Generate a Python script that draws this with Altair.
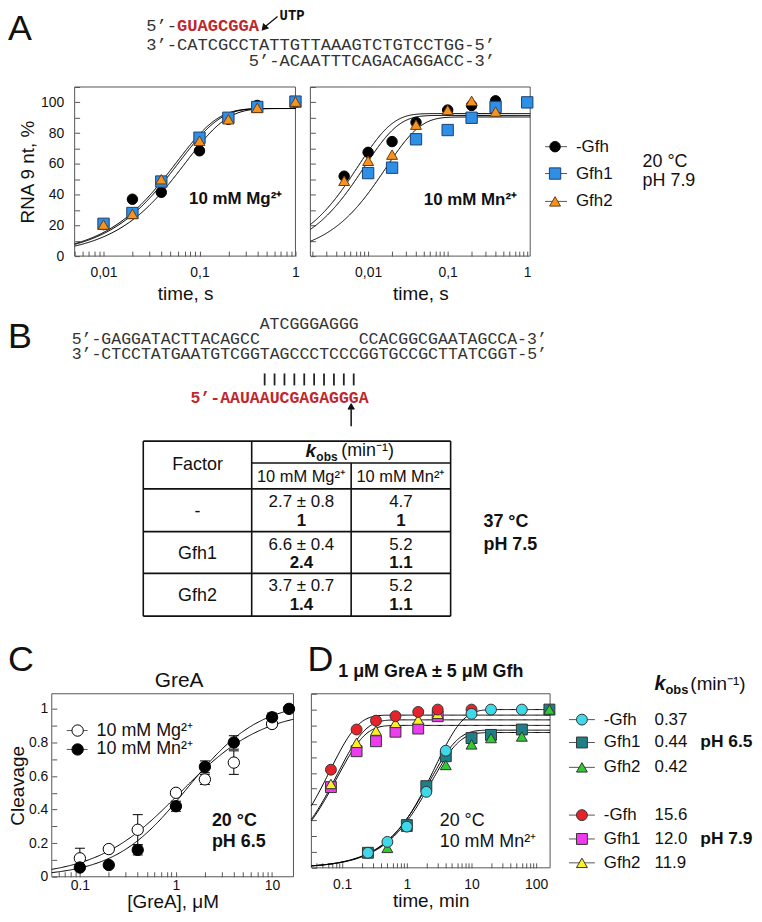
import altair as alt
import numpy as np
import pandas as pd

W, H, OFF = 750, 906, 8
SANS, MONO = "Liberation Sans", "Liberation Mono"
INK, FRAME, SEQ_INK, SEQ_RED = "#111111", "#555555", "#333333", "#c0272d"


def P(v):
    return v - OFF


dummy = pd.DataFrame({"d": [0]})

# ======================= DATA =======================
# Panel A - 10 mM Mg2+ (time, s ; RNA 9 nt, %)
a_mg_time = [0.01, 0.02, 0.04, 0.1, 0.2, 0.4, 1.0]
a_mg_nogfh = [20.5, 37.0, 41.5, 68.5, 89.0, 98.0, 100.0]
a_mg_gfh1 = [21.0, 28.0, 48.5, 77.0, 90.0, 97.0, 100.5]
a_mg_gfh2 = [20.5, 27.5, 50.0, 75.0, 89.0, 96.5, 100.5]
a_mg_k = [14.0, 17.5, 16.5]      # fitted rate constants (s^-1): -Gfh, Gfh1, Gfh2
a_mg_amp = [96.0, 96.0, 96.0]    # fitted amplitudes (%)

# Panel A - 10 mM Mn2+
a_mn_time_nogfh = [0.005, 0.01, 0.02, 0.04, 0.1, 0.2, 0.4]
a_mn_nogfh = [52.0, 67.5, 74.5, 87.0, 95.0, 98.0, 101.0]
a_mn_time_gfh1 = [0.01, 0.02, 0.04, 0.1, 0.2, 0.4, 1.0]
a_mn_gfh1 = [54.0, 57.5, 76.0, 82.0, 90.0, 97.0, 100.0]
a_mn_time_gfh2 = [0.005, 0.01, 0.02, 0.04, 0.1, 0.2, 0.4]
a_mn_gfh2 = [49.0, 62.0, 66.0, 85.5, 95.0, 101.0, 94.0]
a_mn_k = [133.0, 60.0, 112.0]
a_mn_amp = [92.7, 90.5, 91.5]

# Panel B - sequences and table
seqA_prefix = "5’-"
seqA_rna = "GUAGCGGA"
seqA_template = "3’-CATCGCCTATTGTTAAAGTCTGTCCTGG-5’"
seqA_nontemplate = "5’-ACAATTTCAGACAGGACC-3’"
seqB_bubble = "ATCGGGAGGG"
seqB_top_left = "5’-GAGGATACTTACAGCC"
seqB_top_right = "CCACGGCGAATAGCCA-3’"
seqB_template = "3’-CTCCTATGAATGTCGGTAGCCCTCCCGGTGCCGCTTATCGGT-5’"
seqB_rna = "5’-AAUAAUCGAGAGGGA"

table_factor = ["-", "Gfh1", "Gfh2"]
table_mg = ["2.7 ± 0.8", "6.6 ± 0.4", "3.7 ± 0.7"]
table_mg_rel = ["1", "2.4", "1.4"]
table_mn = ["4.7", "5.2", "5.2"]
table_mn_rel = ["1", "1.1", "1.1"]

# Panel C - GreA titration (uM ; cleavage)
c_conc_mg = [0.1, 0.2, 0.4, 1, 2, 4, 10]
c_mg = [0.11, 0.165, 0.28, 0.50, 0.58, 0.68, 0.91]
c_mg_err = [0.06, 0.01, 0.09, 0.01, 0.03, 0.07, 0.02]
c_conc_mn = [0.1, 0.2, 0.4, 1, 2, 4, 10, 15]
c_mn = [0.055, 0.07, 0.16, 0.42, 0.655, 0.80, 0.95, 1.0]
c_mn_err = [0.01, 0.01, 0.03, 0.03, 0.035, 0.04, 0.025, 0.0]
c_fit_bmax = [1.0, 1.05]     # Mg, Mn
c_fit_k = [1.1, 1.3]
c_fit_n = [1.0, 1.15]

# Panel D - time courses (min ; cleavage)
d_t65_nogfh = [0.25, 0.5, 1, 2, 4, 10, 20, 60]
d_65_nogfh = [0.095, 0.164, 0.26, 0.48, 0.74, 0.973, 1.0, 1.0]
d_t65_gfh1 = [0.25, 1, 2, 4, 10, 20, 60, 160]
d_65_gfh1 = [0.095, 0.27, 0.516, 0.705, 0.82, 0.84, 0.874, 1.0]
d_t65_gfh2 = [0.5, 1, 4, 10, 20, 60, 160]
d_65_gfh2 = [0.126, 0.26, 0.65, 0.78, 0.82, 0.83, 1.0]
d_t79 = [0.067, 0.167, 0.333, 0.667, 1.5, 3, 10]
d_79_nogfh = [0.62, 0.874, 0.93, 0.958, 0.985, 1.0, 1.0]
d_t79b = [0.067, 0.167, 0.333, 0.667, 1.5, 3]
d_79_gfh1 = [0.51, 0.737, 0.80, 0.86, 0.88, 0.958]
d_79_gfh2 = [0.53, 0.79, 0.867, 0.916, 0.937, 0.973]
d_kobs = [0.37, 0.44, 0.42, 15.6, 12.0, 11.9]   # min^-1 (legend values)
d_amp = [1.0, 0.87, 0.855, 0.965, 0.90, 0.935]
d_names = ["-Gfh", "Gfh1", "Gfh2", "-Gfh", "Gfh1", "Gfh2"]

# ======================= HELPERS =======================
def mk_scales(xdom, xpx, ydom, ypx):
    xs = alt.Scale(type="log", domain=xdom, range=[P(xpx[0]), P(xpx[1])], nice=False)
    ys = alt.Scale(type="linear", domain=ydom, range=[P(ypx[0]), P(ypx[1])], nice=False, zero=False)
    return xs, ys


def x_label_axis(ybot, values, title, pad, tsize, tpad, fmt="~g", expr=None, lsize=14):
    kw = dict(orient="bottom", offset=P(ybot) - H, values=values, format=fmt, ticks=False, tickSize=0,
              domain=False, grid=False, labelFont=SANS, labelFontSize=lsize, labelColor=INK,
              labelPadding=pad, labelFlush=False, labelOverlap=False, title=title, titleFont=SANS,
              titleFontSize=tsize, titleFontWeight="normal", titleColor=INK, titlePadding=tpad)
    if expr:
        kw["labelExpr"] = expr
    return alt.Axis(**kw)


def y_label_axis(xleft, values, title, pad, tsize, tpad, fmt="d"):
    return alt.Axis(orient="left", offset=-P(xleft), values=values, format=fmt, ticks=False, tickSize=0,
                    domain=False, grid=False, labelFont=SANS, labelFontSize=14, labelColor=INK,
                    labelPadding=pad, labelFlush=False, labelOverlap=False, title=title, titleFont=SANS,
                    titleFontSize=tsize, titleFontWeight="normal", titleColor=INK, titlePadding=tpad)


def x_tick_axis(ybot, values):
    return alt.Axis(orient="top", offset=-P(ybot), values=values, labels=False, domain=False, grid=False,
                    ticks=True, tickSize=5, tickColor=FRAME, tickWidth=1, title=None)


def y_tick_axis(xleft, values):
    return alt.Axis(orient="right", offset=P(xleft) - W, values=values, labels=False, domain=False,
                    grid=False, ticks=True, tickSize=5, tickColor=FRAME, tickWidth=1, title=None)


def box(xs, ys, xdom, ydom, xaxis, yaxis, visible=True):
    mk = (alt.Chart(dummy).mark_rect(fillOpacity=0, stroke=FRAME, strokeWidth=1) if visible
          else alt.Chart(dummy).mark_rect(opacity=0))
    return mk.encode(
        x=alt.XDatum(xdom[0], type="quantitative", scale=xs, axis=xaxis),
        x2=alt.X2Datum(xdom[1]),
        y=alt.YDatum(ydom[0], type="quantitative", scale=ys, axis=yaxis),
        y2=alt.Y2Datum(ydom[1]))


def curves(xs, ys, df):
    return alt.Chart(df).mark_line(color="black", strokeWidth=1).encode(
        x=alt.X("t:Q", scale=xs, axis=None), y=alt.Y("v:Q", scale=ys, axis=None), detail="s:N")


def pts(xs, ys, t, v, shape, fill, stroke, size=110):
    df = pd.DataFrame({"t": t, "v": v})
    return alt.Chart(df).mark_point(shape=shape, filled=True, fill=fill, stroke=stroke, strokeWidth=1,
                                    size=size, opacity=1).encode(
        x=alt.X("t:Q", scale=xs, axis=None), y=alt.Y("v:Q", scale=ys, axis=None))


def log_ticks(lo, hi):
    out = []
    for e in range(-4, 4):
        for m in range(1, 10):
            v = m * 10.0 ** e
            if lo <= v * 1.0001 and v <= hi * 1.0001:
                out.append(float(f"{v:.6g}"))
    return out


def exp_df(k_list, amp_list, lo, hi):
    tt = np.geomspace(lo, hi, 220)
    frames = []
    for i, (k, a) in enumerate(zip(k_list, amp_list)):
        frames.append(pd.DataFrame({"t": tt, "v": a * (1 - np.exp(-k * tt)), "s": i}))
    return pd.concat(frames)


def txt(rows, size, weight="normal", style="normal", color=INK, font=SANS, align="left",
        baseline="middle", angle=0):
    df = pd.DataFrame(rows, columns=["x", "y", "label"])
    df["x"] = df["x"] - OFF
    df["y"] = df["y"] - OFF
    return alt.Chart(df).mark_text(font=font, fontSize=size, fontWeight=weight, fontStyle=style,
                                   color=color, align=align, baseline=baseline, angle=angle).encode(
        x=alt.X("x:Q", scale=None), y=alt.Y("y:Q", scale=None), text="label:N")


def rules(rows, color="black", width=1.0):
    df = pd.DataFrame(rows, columns=["x", "y", "x2", "y2"]) - OFF
    return alt.Chart(df).mark_rule(color=color, strokeWidth=width).encode(
        x=alt.X("x:Q", scale=None), y=alt.Y("y:Q", scale=None), x2="x2:Q", y2="y2:Q")


def marks(rows, shape, fill, stroke, size=110, angle=0):
    df = pd.DataFrame(rows, columns=["x", "y"]) - OFF
    return alt.Chart(df).mark_point(shape=shape, filled=True, fill=fill, stroke=stroke, strokeWidth=1,
                                    size=size, opacity=1, angle=angle).encode(
        x=alt.X("x:Q", scale=None), y=alt.Y("y:Q", scale=None))


# marker styles
BLACK = ("circle", "#000000", "#000000")
BLUE = ("square", "#2d8fe6", "#1c3f70")
ORANGE = ("triangle-up", "#f7931e", "#6b3a10")

# ======================= PANEL A =======================
A_YDOM = [0, 110]
A_YPX = (255, 85)
A_YTICKS = list(range(0, 111, 10))
comma = "replace(datum.label, '.', ',')"

A1_XDOM, A1_XPX = [0.005, 1.0], (75, 297)
xs, ys = mk_scales(A1_XDOM, A1_XPX, A_YDOM, A_YPX)
panelA1 = alt.layer(
    box(xs, ys, A1_XDOM, A_YDOM,
        x_label_axis(255, [0.01, 0.1, 1], "time, s", 10, 19, 5, fmt=".2~f", expr=comma),
        y_label_axis(75, [0, 20, 40, 60, 80, 100], "RNA 9 nt, %", 11, 19, 3)),
    box(xs, ys, A1_XDOM, A_YDOM, x_tick_axis(255, log_ticks(*A1_XDOM)), y_tick_axis(75, A_YTICKS), False),
    curves(xs, ys, exp_df(a_mg_k, a_mg_amp, *A1_XDOM)),
    pts(xs, ys, a_mg_time, a_mg_nogfh, *BLACK),
    pts(xs, ys, a_mg_time, a_mg_gfh1, *BLUE, size=130),
    pts(xs, ys, a_mg_time, a_mg_gfh2, *ORANGE, size=120),
).resolve_axis(x="independent", y="independent")

A2_XDOM, A2_XPX = [0.00188, 1.09], (312, 533)
xs, ys = mk_scales(A2_XDOM, A2_XPX, A_YDOM, A_YPX)
panelA2 = alt.layer(
    box(xs, ys, A2_XDOM, A_YDOM,
        x_label_axis(255, [0.01, 0.1, 1], "time, s", 10, 19, 5, fmt=".2~f", expr=comma), None),
    box(xs, ys, A2_XDOM, A_YDOM, x_tick_axis(255, log_ticks(*A2_XDOM)), y_tick_axis(312, A_YTICKS), False),
    curves(xs, ys, exp_df(a_mn_k, a_mn_amp, *A2_XDOM)),
    pts(xs, ys, a_mn_time_nogfh, a_mn_nogfh, *BLACK),
    pts(xs, ys, a_mn_time_gfh1, a_mn_gfh1, *BLUE, size=130),
    pts(xs, ys, a_mn_time_gfh2, a_mn_gfh2, *ORANGE, size=120),
).resolve_axis(x="independent", y="independent")

# ======================= PANEL C =======================
C_XDOM, C_XPX = [0.051, 16.7], (52, 295)
C_YDOM, C_YPX = [0, 1.09], (879, 695)
xs, ys = mk_scales(C_XDOM, C_XPX, C_YDOM, C_YPX)
tt = np.geomspace(C_XDOM[0], C_XDOM[1], 220)
c_curves = pd.concat([
    pd.DataFrame({"t": tt, "v": b * tt ** n / (kd ** n + tt ** n), "s": i})
    for i, (b, kd, n) in enumerate(zip(c_fit_bmax, c_fit_k, c_fit_n))])


def errbars(t, v, e):
    df = pd.DataFrame({"t": t, "lo": np.array(v) - np.array(e), "hi": np.array(v) + np.array(e)})
    df = df[df["hi"] > df["lo"]]
    base = alt.Chart(df)
    return [
        base.mark_rule(color="black", strokeWidth=1).encode(
            x=alt.X("t:Q", scale=xs, axis=None), y=alt.Y("lo:Q", scale=ys, axis=None), y2="hi:Q"),
        base.mark_tick(orient="horizontal", color="black", size=10, thickness=1, opacity=1).encode(
            x=alt.X("t:Q", scale=xs, axis=None), y=alt.Y("hi:Q", scale=ys, axis=None)),
        base.mark_tick(orient="horizontal", color="black", size=10, thickness=1, opacity=1).encode(
            x=alt.X("t:Q", scale=xs, axis=None), y=alt.Y("lo:Q", scale=ys, axis=None)),
    ]


panelC = alt.layer(
    box(xs, ys, C_XDOM, C_YDOM,
        x_label_axis(879, [0.1, 1, 10], "[GreA], μM", 2, 19, 0),
        y_label_axis(52, [0, 0.2, 0.4, 0.6, 0.8, 1], "Cleavage", 4, 19, 1, fmt="~g")),
    box(xs, ys, C_XDOM, C_YDOM, x_tick_axis(879, log_ticks(*C_XDOM)),
        y_tick_axis(52, [round(0.1 * i, 1) for i in range(11)]), False),
    *errbars(c_conc_mg, c_mg, c_mg_err),
    *errbars(c_conc_mn, c_mn, c_mn_err),
    curves(xs, ys, c_curves),
    pts(xs, ys, c_conc_mg, c_mg, "circle", "#ffffff", "#000000", 130),
    pts(xs, ys, c_conc_mn, c_mn, "circle", "#000000", "#000000", 130),
).resolve_axis(x="independent", y="independent")

# ======================= PANEL D =======================
D_XDOM, D_XPX = [0.0334, 164], (313, 553)
D_YDOM, D_YPX = [0, 1.1], (870, 695)
xs, ys = mk_scales(D_XDOM, D_XPX, D_YDOM, D_YPX)
D_STY = [("circle", "#3fd8e8", "#333333"), ("square", "#1e7f86", "#333333"),
         ("triangle-up", "#2ecc2e", "#333333"), ("circle", "#e8222a", "#333333"),
         ("square", "#ee3bee", "#333333"), ("triangle-up", "#fff023", "#333333")]
panelD = alt.layer(
    box(xs, ys, D_XDOM, D_YDOM, x_label_axis(870, [0.1, 1, 10, 100], "time, min", 10, 19, 0), None),
    box(xs, ys, D_XDOM, D_YDOM, x_tick_axis(870, log_ticks(*D_XDOM)),
        y_tick_axis(313, [round(0.1 * i, 1) for i in range(12)]), False),
    curves(xs, ys, exp_df(d_kobs, d_amp, *D_XDOM)),
    pts(xs, ys, d_t79b, d_79_gfh1, *D_STY[4], size=120),
    pts(xs, ys, d_t79b, d_79_gfh2, *D_STY[5], size=120),
    pts(xs, ys, d_t79, d_79_nogfh, *D_STY[3], size=120),
    pts(xs, ys, d_t65_gfh1, d_65_gfh1, *D_STY[1], size=120),
    pts(xs, ys, d_t65_gfh2, d_65_gfh2, *D_STY[2], size=120),
    pts(xs, ys, d_t65_nogfh, d_65_nogfh, *D_STY[0], size=120),
).resolve_axis(x="independent", y="independent")

# ======================= ANNOTATIONS =======================
ann = []
ann.append(txt([(8, 38, "A"), (8, 347, "B"), (8, 672, "C"), (309, 672, "D")], 36, baseline="alphabetic"))

# A sequences
CWA, FA, XA = 10.3, 17.2, 147
ann.append(txt([(XA, 24, seqA_prefix), (XA, 43, seqA_template), (XA + 10 * CWA, 59, seqA_nontemplate)],
               FA, font=MONO, color=SEQ_INK))
ann.append(txt([(XA + 3 * CWA, 24, seqA_rna)], FA, weight="bold", font=MONO, color=SEQ_RED))
ann.append(txt([(281, 14, "UTP")], 14, weight="bold", font=MONO, color="#111111"))
ann.append(rules([(279, 14, 267, 24)], color="#111111", width=1.3))
ann.append(marks([(266, 25)], "triangle", "#111111", "#111111", 40, angle=221))

# A in-panel labels & legend
ann.append(txt([(190, 198, "10 mM Mg²⁺"), (426, 199, "10 mM Mn²⁺")], 17, weight="bold"))
ann.append(rules([(548, y, 570, y) for y in (145, 172, 200)], color=FRAME, width=1))
ann.append(marks([(558, 145)], *BLACK, 110))
ann.append(marks([(558, 172)], *BLUE, 130))
ann.append(marks([(558, 200)], *ORANGE, 120))
ann.append(txt([(579, 145, "-Gfh"), (579, 172, "Gfh1"), (579, 200, "Gfh2")], 17))
ann.append(txt([(646, 160, "20 °C"), (646, 180, "pH 7.9")], 18))

# B sequences
CWB, FB, XB = 9.95, 16.6, 72
ann.append(txt([(XB + 19 * CWB, 323, seqB_bubble), (XB, 338, seqB_top_left),
                (XB + 29 * CWB, 338, seqB_top_right), (XB, 353, seqB_template)], FB, font=MONO, color=SEQ_INK))
ann.append(rules([(XB + (19.5 + i) * CWB, 373, XB + (19.5 + i) * CWB, 385) for i in range(10)],
                 color="#222222", width=1.8))
ann.append(txt([(XB + 12 * CWB, 398, seqB_rna)], FB, weight="bold", font=MONO, color=SEQ_RED))
ann.append(rules([(353, 426, 353, 409)], color="#111111", width=1.5))
ann.append(marks([(353, 407)], "triangle", "#111111", "#111111", 40))

# table
TL, TR, TT, TB = 144, 453, 441, 617
C1, C2 = 253, 353
ROWS = [489, 532, 574, 617]
trows = [(TL, TT, TR, TT), (TL, TB, TR, TB), (TL, TT, TL, TB), (TR, TT, TR, TB),
         (C1, TT, C1, TB), (C2, 463, C2, TB), (C1, 463, TR, 463)]
trows += [(TL, y, TR, y) for y in ROWS[:3]]
ann.append(rules(trows, color="#111111", width=1.6))
ann.append(txt([(198.5, 465, "Factor")], 18, align="center"))
ann.append(txt([(307, 451, "k")], 19, weight="bold", style="italic"))
ann.append(txt([(318, 457, "obs")], 12, weight="bold"))
ann.append(txt([(343, 451, "(min⁻¹)")], 18))
ann.append(txt([(303, 477, "10 mM Mg²⁺"), (403, 477, "10 mM Mn²⁺")], 16.5, align="center"))
row_tops = [489, 532, 574]
ann.append(txt([(198.5, t + 23, f) for t, f in zip(row_tops, table_factor)], 18, align="center"))
ann.append(txt([(303, t + 13, v) for t, v in zip(row_tops, table_mg)] +
               [(403, t + 13, v) for t, v in zip(row_tops, table_mn)], 17, align="center"))
ann.append(txt([(303, t + 32, v) for t, v in zip(row_tops, table_mg_rel)] +
               [(403, t + 32, v) for t, v in zip(row_tops, table_mn_rel)], 17, weight="bold", align="center"))
ann.append(txt([(486, 522, "37 °C"), (486, 545, "pH 7.5")], 18, weight="bold"))

# C annotations
ann.append(txt([(180, 682, "GreA")], 21, align="center"))
ann.append(rules([(67, 732, 88, 732), (67, 751, 88, 751)], color=FRAME, width=1))
ann.append(marks([(78, 732)], "circle", "#ffffff", "#000000", 130))
ann.append(marks([(78, 751)], "circle", "#000000", "#000000", 130))
ann.append(txt([(97, 732, "10 mM Mg²⁺"), (97, 751, "10 mM Mn²⁺")], 18))
ann.append(txt([(213, 823, "20 °C"), (213, 844, "pH 6.5")], 18, weight="bold"))

# D annotations
ann.append(txt([(340, 673, "1 μM GreA ± 5 μM Gfh")], 18, weight="bold"))
ann.append(txt([(442, 823, "20 °C"), (442, 844, "10 mM Mn²⁺")], 18))
LEG_Y = [721, 744, 769, 817, 841, 865]
ann.append(rules([(572, y, 598, y) for y in LEG_Y], color=FRAME, width=1))
for y, sty in zip(LEG_Y, D_STY):
    ann.append(marks([(585, y)], *sty, 120))
ann.append(txt([(607, y, n) for y, n in zip(LEG_Y, d_names)], 17))
ann.append(txt([(658, y, f"{k:.2f}" if k < 1 else f"{k:.1f}") for y, k in zip(LEG_Y, d_kobs)], 17))
ann.append(txt([(704, 744, "pH 6.5"), (704, 841, "pH 7.9")], 17.5, weight="bold"))
ann.append(txt([(658, 685, "k")], 20, weight="bold", style="italic"))
ann.append(txt([(669, 691, "obs")], 13, weight="bold"))
ann.append(txt([(694, 685, "(min⁻¹)")], 19))

chart = alt.layer(panelA1, panelA2, panelC, panelD, *ann).resolve_scale(
    x="independent", y="independent").properties(
    width=W, height=H, padding=0, autosize=alt.AutoSizeParams(type="none")).configure_view(
    stroke="transparent")

chart.save("out.html", embed_options={"renderer": "svg", "actions": False})
